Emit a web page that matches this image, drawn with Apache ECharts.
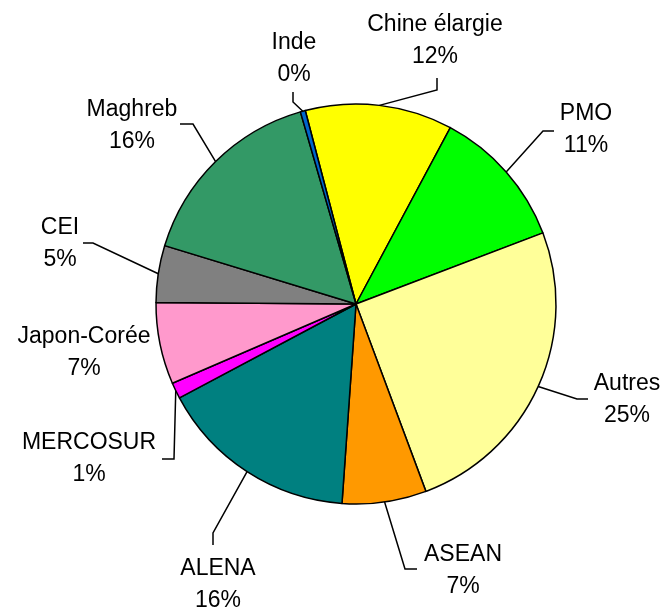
<!DOCTYPE html>
<html>
<head>
<meta charset="utf-8">
<script src="https://cdn.jsdelivr.net/npm/echarts@6/dist/echarts.min.js"></script>
<style>
  html, body { margin: 0; padding: 0; background: #fff; }
  #main { width: 664px; height: 607px; }
</style>
</head>
<body>
<div id="main"></div>
<script>
// données (parts en %), dans le sens horaire
const regions = ['Chine élargie', 'PMO', 'Autres', 'ASEAN', 'ALENA', 'MERCOSUR', 'Japon-Corée', 'CEI', 'Maghreb', 'Inde']
const parts = [11.9, 11.4, 25.1, 6.8, 16.1, 1.3, 6.6, 4.6, 15.8, 0.4]
const couleurs = ['#FFFF00', '#00FF00', '#FFFF99', '#FF9900', '#008080', '#FF00FF', '#FF99CC', '#808080', '#339966', '#0066CC']

// position des étiquettes (centre du bloc texte) et coude des traits de rappel
const etiquettes = {
  'Chine élargie': { x: 435, y: 41, line: [[437, 90], [437, 78]] },
  'PMO': { x: 586, y: 130, line: [[543, 131], [554, 131]] },
  'Autres': { x: 627, y: 400, line: [[577, 399], [588, 399]] },
  'ASEAN': { x: 463, y: 571, line: [[405, 569], [417, 569]] },
  'ALENA': { x: 218, y: 585, line: [[213, 533], [213, 545]] },
  'MERCOSUR': { x: 89, y: 459, line: [[174, 459], [162, 459]] },
  'Japon-Corée': { x: 84, y: 353, line: null },
  'CEI': { x: 60, y: 244, line: [[93, 243], [83, 243]] },
  'Maghreb': { x: 132, y: 126, line: [[193, 124], [180, 124]] },
  'Inde': { x: 294, y: 59, line: [[293, 102], [293, 92]] }
}

const myChart = echarts.init(document.getElementById('main'))

const data = regions.map((nom, i) => {
  return {
    name: nom,
    value: parts[i],
    itemStyle: { color: couleurs[i] },
    labelLine: { show: etiquettes[nom].line !== null }
  }
})

const option = {
  animation: false,
  series: [
    {
      type: 'pie',
      center: [356, 304],
      radius: 200,
      startAngle: 104.7, // la tranche Chine élargie commence un peu à gauche du haut
      clockwise: true,
      avoidLabelOverlap: false,
      percentPrecision: 0,
      emphasis: { disabled: true },
      itemStyle: {
        borderColor: '#000',
        borderWidth: 1.5
      },
      label: {
        show: true,
        position: 'outside',
        formatter: '{b}\n{d}%',
        color: '#000',
        fontFamily: 'Liberation Sans, Arial, sans-serif',
        fontSize: 23,
        lineHeight: 32,
        align: 'center'
      },
      labelLine: {
        show: true,
        lineStyle: { color: '#000', width: 1.5 }
      },
      labelLayout: function (params) {
        const nom = regions[params.dataIndex]
        const e = etiquettes[nom]
        const res = {
          x: e.x,
          y: e.y,
          align: 'center',
          verticalAlign: 'middle',
          hideOverlap: false,
          moveOverlap: false
        }
        if (e.line && params.labelLinePoints) {
          res.labelLinePoints = [params.labelLinePoints[0], e.line[0], e.line[1]]
        }
        return res
      },
      data: data
    }
  ]
}
option && myChart.setOption(option)
</script>
</body>
</html>
